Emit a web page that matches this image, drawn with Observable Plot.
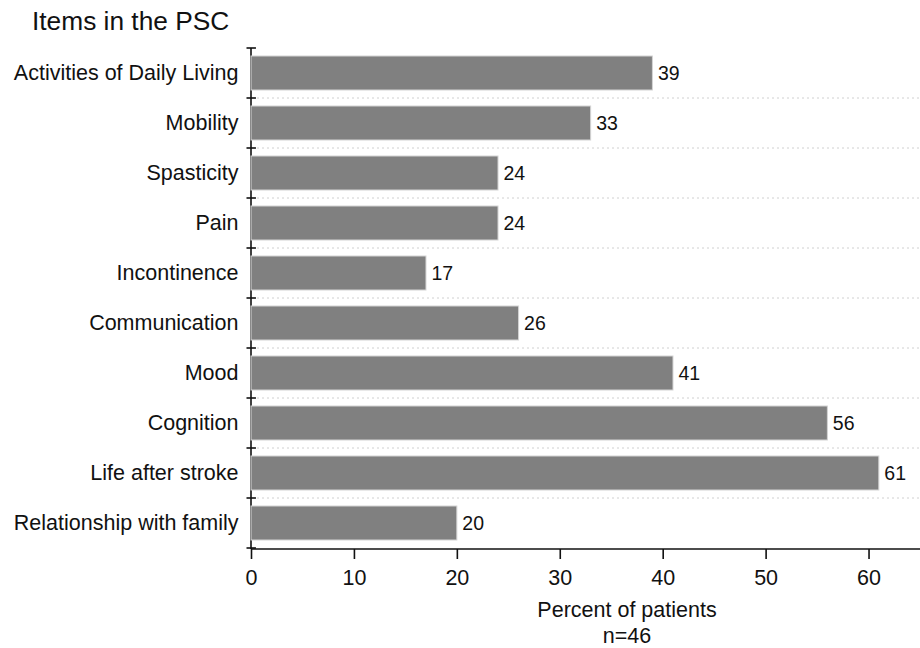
<!DOCTYPE html>
<html>
<head>
<meta charset="utf-8">
<script src="https://cdn.jsdelivr.net/npm/d3@7"></script>
<script src="https://cdn.jsdelivr.net/npm/@observablehq/plot@0.6"></script>
<style>
  body { margin: 0; background: #fff; font-family: "Liberation Sans", Arial, sans-serif; }
  #title { height: 40px; box-sizing: border-box; padding: 8px 0 0 32px; font-size: 26.3px; line-height: 1; color: #111; }
  #chart svg { display: block; }
</style>
</head>
<body>
<div id="title">Items in the PSC</div>
<div id="chart"></div>
<script>
const categories = [
  "Activities of Daily Living", "Mobility", "Spasticity", "Pain", "Incontinence",
  "Communication", "Mood", "Cognition", "Life after stroke", "Relationship with family"
];
const values = [39, 33, 24, 24, 17, 26, 41, 56, 61, 20];
const xTicks = [0, 10, 20, 30, 40, 50, 60];
const xLabel = "Percent of patients";
const caption = "n=46";

const data = categories.map((c, i) => ({ item: c, pct: values[i] }));
const padIn = 0.32;

function frameLines(index, scales, values, dims) {
  const y = scales.y, x = scales.x;
  const bw = typeof y.bandwidth === "function" ? y.bandwidth() : (y(categories[1]) - y(categories[0])) * (1 - padIn);
  const step = categories.length > 1 ? y(categories[1]) - y(categories[0]) : bw;
  const gap = (step - bw) / 2;
  const bounds = categories.map(c => y(c) - gap);
  bounds.push(y(categories[categories.length - 1]) + bw + gap);
  const x0 = x(0);
  const g = d3.create("svg:g");
  bounds.slice(1, -1).forEach(b => {
    g.append("line").attr("x1", x0 + 6).attr("x2", dims.width - dims.marginRight)
      .attr("y1", b).attr("y2", b)
      .attr("stroke", "#d0d0d0").attr("stroke-dasharray", "2,3").attr("stroke-width", 1);
  });
  g.append("line").attr("x1", x0).attr("x2", x0)
    .attr("y1", bounds[0]).attr("y2", bounds[bounds.length - 1] + 1)
    .attr("stroke", "#111").attr("stroke-width", 1.6);
  bounds.forEach(b => {
    g.append("line").attr("x1", x0 - 4.5).attr("x2", x0 + 5)
      .attr("y1", b).attr("y2", b)
      .attr("stroke", "#111").attr("stroke-width", 1.6);
  });
  const yb = bounds[bounds.length - 1] + 1;
  g.append("line").attr("x1", x0).attr("x2", dims.width - dims.marginRight)
    .attr("y1", yb).attr("y2", yb)
    .attr("stroke", "#111").attr("stroke-width", 1.6);
  return g.node();
}

const chart = Plot.plot({
  width: 920,
  height: 608,
  marginTop: 8,
  marginBottom: 100,
  marginLeft: 251,
  marginRight: 0,
  style: { fontFamily: "'Liberation Sans', Arial, sans-serif", color: "#111", background: "#fff" },
  x: { domain: [0, 65], ticks: xTicks },
  y: { domain: categories, paddingInner: padIn, paddingOuter: padIn / 2, align: 0.5 },
  marks: [
    frameLines,
    Plot.barX(data, { x: "pct", y: "item", fill: "#808080", stroke: "#d4d4d4", strokeWidth: 1 }),
    Plot.text(data, { x: "pct", y: "item", text: d => String(d.pct), textAnchor: "start", dx: 5, fontSize: 19.5, fill: "#111" }),
    Plot.axisY({ tickSize: 0, tickPadding: 13, fontSize: 21.5, label: null }),
    Plot.axisX({ ticks: xTicks, tickSize: 10, tickPadding: 10, fontSize: 21.5, label: null, strokeWidth: 1.6, dy: 1 }),
    Plot.text([xLabel], { frameAnchor: "bottom", lineAnchor: "bottom", dx: 41, dy: 68, fontSize: 21.5, fill: "#111" }),
    Plot.text([caption], { frameAnchor: "bottom", lineAnchor: "bottom", dx: 41, dy: 94, fontSize: 21.5, fill: "#111" })
  ]
});
document.getElementById("chart").appendChild(chart);
</script>
</body>
</html>
